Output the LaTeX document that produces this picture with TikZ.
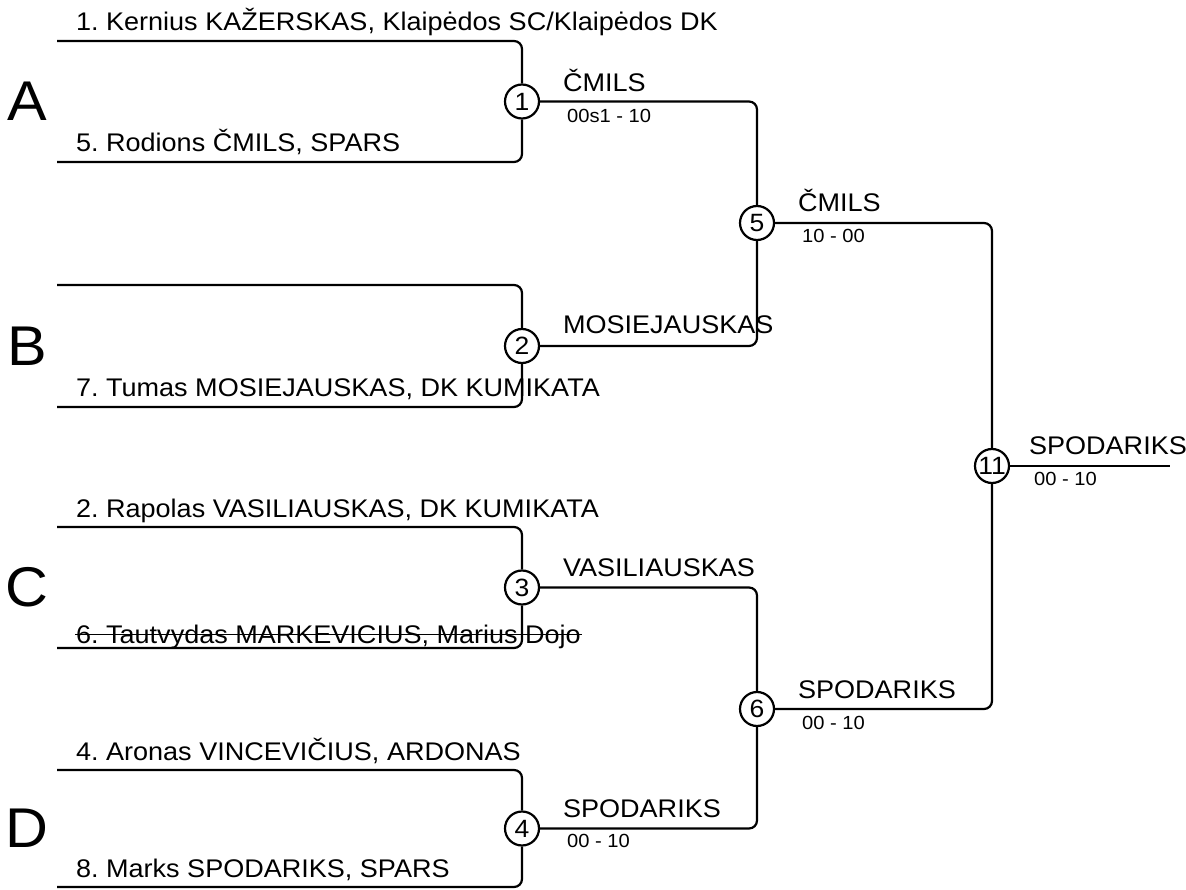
\documentclass[tikz,border=0pt]{standalone}
\usepackage{fontspec}
\setmainfont[FakeStretch=1.06]{Liberation Sans}
\frenchspacing
\usetikzlibrary{positioning}

\tikzset{
	game/.style={circle, draw, minimum size=34pt, inner sep=0pt, font=\fontsize{25}{25}\selectfont},
	player/.style={anchor=base west, inner sep=0pt, font=\fontsize{25.5}{25.5}\selectfont},
	winner/.style={anchor=base west, inner sep=0pt, font=\fontsize{25.5}{25.5}\selectfont},
	score/.style={anchor=base west, inner sep=0pt, font=\fontsize{19}{19}\selectfont},
	group/.style={inner sep=0pt, font=\fontsize{56}{56}\selectfont},
	bracket/.style={rounded corners=8pt}
}

\begin{document}
\begin{tikzpicture}[x=1pt, y=-1pt, line width=2.2pt]

	\useasboundingbox (0,0) rectangle (1186,890);

	% first round
	\foreach \n/\t/\b/\g in {1/41/162/A, 2/285/407/B, 3/527/648/C, 4/770/887/D}{
		\node[game] (m\n) at (522,{(\t+\b)/2}) {\n};
		\coordinate (t\n) at (57,\t);
		\coordinate (b\n) at (57,\b);
		\node[group] (g\g) at (27,{(\t+\b)/2}) {\g};
		\draw[bracket] (t\n) -| (m\n);
		\draw[bracket] (b\n) -| (m\n);
	}

	% players
	\node[player] (p1) at (75,31) {1. Kernius KAŽERSKAS, Klaipėdos SC/Klaipėdos DK};
	\node[player] (p5) at (75,152) {5. Rodions ČMILS, SPARS};
	\node[player] (p7) at (75,397) {7. Tumas MOSIEJAUSKAS, DK KUMIKATA};
	\node[player] (p2) at (75,517) {2. Rapolas VASILIAUSKAS, DK KUMIKATA};
	\node[player] (p6) at (75,643) {6. Tautvydas MARKEVICIUS, Marius Dojo};
	\draw[line width=1.6pt] ([yshift=8.5pt]p6.base west) -- ([yshift=8.5pt]p6.base east);
	\node[player] (p4) at (75,760) {4. Aronas VINCEVIČIUS, ARDONAS};
	\node[player] (p8) at (75,877) {8. Marks SPODARIKS, SPARS};

	% later rounds
	\node[game] (m5) at (757,223) {5};
	\node[game] (m6) at (757,709) {6};
	\node[game] (m11) at (992,466) {11};
	\coordinate (fin) at (1170,466);

	\draw[bracket] (m1) -| (m5);
	\draw[bracket] (m2) -| (m5);
	\draw[bracket] (m3) -| (m6);
	\draw[bracket] (m4) -| (m6);
	\draw[bracket] (m5) -| (m11);
	\draw[bracket] (m6) -| (m11);
	\draw (m11) -- (fin);

	% winners and scores
	\node[winner] (w1) at ([shift={(40,-10)}]m1.center) {ČMILS};
	\node[score] (s1) at ([shift={(44,21)}]m1.center) {00s1 - 10};
	\node[winner] (w2) at ([shift={(40,-12)}]m2.center) {MOSIEJAUSKAS};
	\node[winner] (w3) at ([shift={(40,-11)}]m3.center) {VASILIAUSKAS};
	\node[winner] (w4) at ([shift={(40,-11)}]m4.center) {SPODARIKS};
	\node[score] (s4) at ([shift={(44,19)}]m4.center) {00 - 10};
	\node[winner] (w5) at ([shift={(40,-11)}]m5.center) {ČMILS};
	\node[score] (s5) at ([shift={(44,20)}]m5.center) {10 - 00};
	\node[winner] (w6) at ([shift={(40,-11)}]m6.center) {SPODARIKS};
	\node[score] (s6) at ([shift={(44,20)}]m6.center) {00 - 10};
	\node[winner] (w11) at ([shift={(36,-12)}]m11.center) {SPODARIKS};
	\node[score] (s11) at ([shift={(41,19)}]m11.center) {00 - 10};

\end{tikzpicture}
\end{document}
